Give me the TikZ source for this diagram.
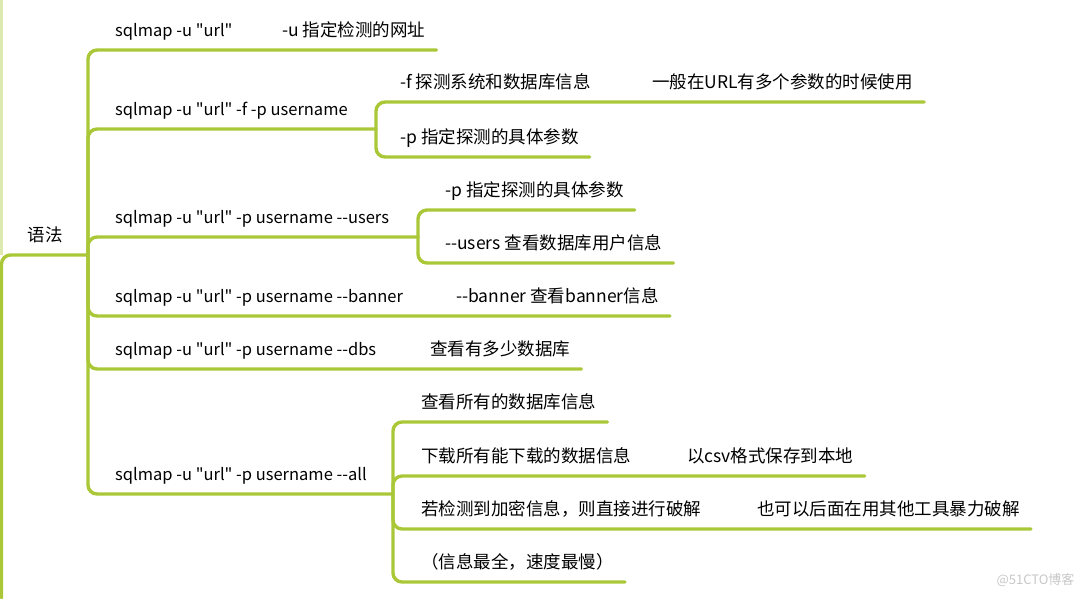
\documentclass[tikz,border=0pt]{standalone}
\usepackage{fontspec}
\newfontfamily\mapfont{Noto Sans CJK SC}
\definecolor{leaf}{RGB}{170,199,56}

\begin{document}
\begin{tikzpicture}[x=1pt,y=-1pt,
  txt/.style={anchor=south west,inner xsep=11pt,inner ysep=9pt,text height=13pt,text depth=4pt,font={\mapfont\fontsize{17.5}{20}\selectfont}},
  cmd/.style={txt,font={\mapfont\fontsize{16.5}{20}\selectfont}},
  br/.style={draw=leaf,line width=3.4pt,rounded corners=9pt,line cap=round}]
 \useasboundingbox (0,0) rectangle (1085,598);
 % root
 \node[txt,inner xsep=0pt,minimum width=80pt] (root) at (5,255) {语法};
 \coordinate (rj) at (88,255);
 \draw[leaf!40,line width=3pt] (1.5,0) -- (1.5,255);
 \draw[br] (rj) -- (1.5,255) -- (1.5,598);
 % commands
 \node[cmd] (b1) at (104,50) {sqlmap -u "url"};
 \node[txt] (b1d) at (271,50) {-u 指定检测的网址};
 \node[cmd] (b2) at (104,129) {sqlmap -u "url" -f -p username};
 \node[cmd] (b3) at (104,237) {sqlmap -u "url" -p username --users};
 \node[cmd] (b4) at (104,316) {sqlmap -u "url" -p username --banner};
 \node[txt] (b4d) at (445,316) {--banner 查看banner信息};
 \node[cmd] (b5) at (104,369) {sqlmap -u "url" -p username --dbs};
 \node[txt] (b5d) at (419,369) {查看有多少数据库};
 \node[cmd] (b6) at (104,494) {sqlmap -u "url" -p username --all};
 \coordinate (j2) at (376,129);
 \coordinate (j3) at (418,237);
 \coordinate (j6) at (393,494);
 % options
 \node[txt] (c21) at (389,102) {-f 探测系统和数据库信息};
 \node[txt] (c21d) at (641,102) {一般在URL有多个参数的时候使用};
 \node[txt] (c22) at (389,157) {-p 指定探测的具体参数};
 \node[txt] (c31) at (434,210) {-p 指定探测的具体参数};
 \node[txt] (c32) at (434,263) {--users 查看数据库用户信息};
 \node[txt] (c61) at (410,422) {查看所有的数据库信息};
 \node[txt] (c62) at (410,476) {下载所有能下载的数据信息};
 \node[txt] (c62d) at (676,476) {以csv格式保存到本地};
 \node[txt] (c63) at (410,529) {若检测到加密信息，则直接进行破解};
 \node[txt] (c63d) at (746,529) {也可以后面在用其他工具暴力破解};
 \node[txt] (c64) at (410,582) {（信息最全，速度最慢）};
 % branches
 \foreach \t in {b1d.south east,j2,j3,b4d.south east,b5d.south east,j6} \draw[br] (rj) |- (\t);
 \foreach \t in {c21d,c22} \draw[br] (j2) |- (\t.south east);
 \foreach \t in {c31,c32} \draw[br] (j3) |- (\t.south east);
 \foreach \t in {c61,c62d,c63d,c64} \draw[br] (j6) |- (\t.south east);
 \node[anchor=east,text=black!22,font={\mapfont\fontsize{13}{15}\selectfont}] (wm) at (1078,580) {@51CTO博客};
\end{tikzpicture}
\end{document}
